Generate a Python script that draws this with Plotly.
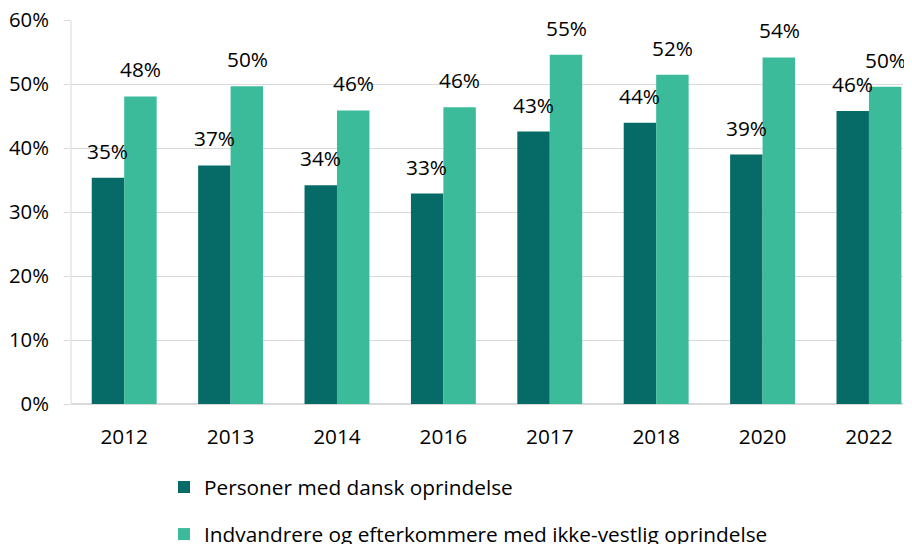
import plotly.graph_objects as go

years = ["2012", "2013", "2014", "2016", "2017", "2018", "2020", "2022"]
dansk = [0.354, 0.373, 0.342, 0.329, 0.426, 0.440, 0.390, 0.458]
ikke_vestlig = [0.481, 0.497, 0.459, 0.464, 0.546, 0.515, 0.542, 0.496]
series_names = ["Personer med dansk oprindelse",
                "Indvandrere og efterkommere med ikke-vestlig oprindelse"]
y_ticks = [0, 0.1, 0.2, 0.3, 0.4, 0.5, 0.6]

DARK = "#066B66"
LIGHT = "#3CBB9B"
FONT = "Open Sans"
FS = 20.8

fig = go.Figure()
fig.add_trace(go.Bar(x=years, y=dansk, name=series_names[0], marker_color=DARK,
                     marker_line_width=0, legendgroup="a"))
fig.add_trace(go.Bar(x=years, y=ikke_vestlig, name=series_names[1], marker_color=LIGHT,
                     marker_line_width=0, legendgroup="b"))

annotations = []
for vals, shift in ((dansk, -16.5), (ikke_vestlig, 16.5)):
    for i, v in enumerate(vals):
        annotations.append(dict(x=i, y=v, xref="x", yref="y", text=f"{round(v*100)}%",
                                showarrow=False, yanchor="bottom", xanchor="center",
                                xshift=shift, yshift=11,
                                font=dict(family=FONT, size=FS, color="#000000")))

# page body has an 8px offset; margins compensate so the plot lands where the reference has it
ml, mr, mt, mb = 63, 17, 12, 148
plot_h = 544 - mt - mb
plot_w = 912 - ml - mr
fig.update_layout(
    width=912, height=544,
    margin=dict(l=ml, r=mr, t=mt, b=mb, autoexpand=False),
    paper_bgcolor="white", plot_bgcolor="white",
    barmode="group", bargap=0.39, bargroupgap=0,
    font=dict(family=FONT, size=FS, color="#000000"),
    annotations=annotations,
    showlegend=True,
    legend=dict(orientation="v",
                x=(156 - ml) / plot_w, y=-(459 - (544 - mb)) / plot_h,
                xanchor="left", yanchor="top",
                traceorder="grouped", tracegroupgap=17,
                font=dict(family=FONT, size=FS, color="#000000"),
                bgcolor="rgba(0,0,0,0)"),
)
fig.update_xaxes(type="category", range=[-0.5, 7.32], showgrid=False,
                 showline=False, ticks="", ticklabelstandoff=18, tickangle=0,
                 tickfont=dict(family=FONT, size=FS, color="#000000"))
fig.update_yaxes(range=[0, 0.6005], tickvals=y_ticks, tickformat=".0%",
                 showgrid=True, gridcolor="#D9D9D9", gridwidth=1,
                 showline=False, ticklabeloverflow="allow",
                 ticks="outside", ticklen=6, tickcolor="#D9D9D9",
                 ticklabelstandoff=11, zeroline=True, zerolinecolor="#D9D9D9",
                 tickfont=dict(family=FONT, size=20.3, color="#000000"))
fig.add_shape(type="line", xref="paper", yref="y", x0=0, x1=0, y0=0, y1=0.6,
              line=dict(color="#D9D9D9", width=1))

fig.write_html("out.html")
